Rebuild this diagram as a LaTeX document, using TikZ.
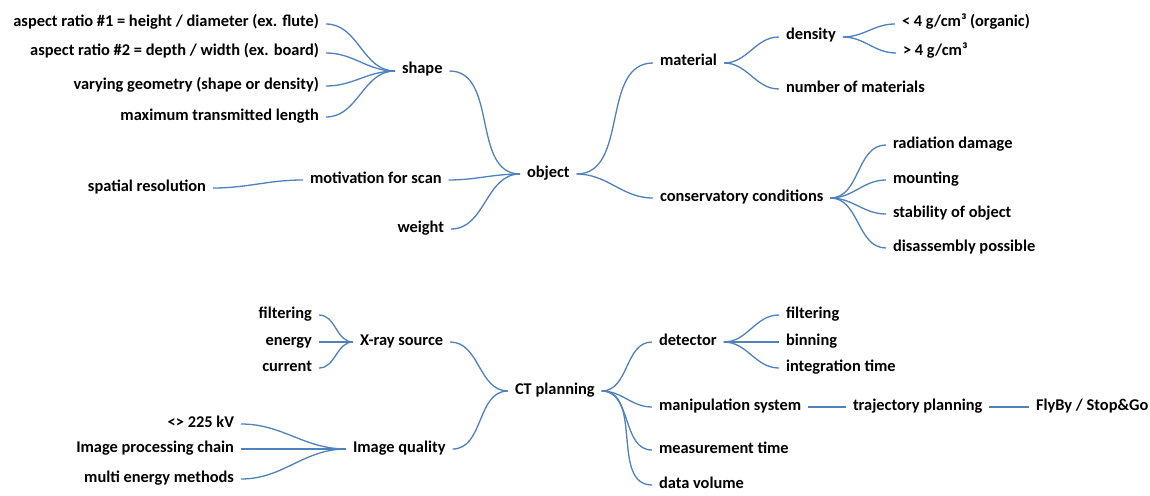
\documentclass[tikz,border=0pt]{standalone}
\usepackage{fontspec}
\setmainfont{Carlito}
\definecolor{linkblue}{RGB}{79,129,189}
\begin{document}
\begin{tikzpicture}[x=1pt,y=-1pt,
  lbl/.style={inner xsep=7pt, inner ysep=0pt, outer sep=0pt, text height=10.5pt, text depth=4.5pt,
    font=\fontsize{16.4}{18}\selectfont\bfseries, text=black},
  L/.style={lbl, anchor=east},
  R/.style={lbl, anchor=west},
  link/.style={draw=linkblue, line width=1.3pt, out=0, in=180},
]
\fill[white] (0,0) rectangle (1150,495);
\useasboundingbox (0,0) rectangle (1150,495);

% ---- object tree ----
\node[L] (asp1) at (326,24) {aspect ratio \#1 = height / diameter (ex. flute)};
\node[L] (asp2) at (326,53) {aspect ratio \#2 = depth / width (ex. board)};
\node[L] (vary) at (326,86) {varying geometry (shape or density)};
\node[L] (maxl) at (326,117) {maximum transmitted length};
\node[R] (shape) at (395,71) {shape};
\node[L] (spat) at (213,188) {spatial resolution};
\node[R] (motiv) at (303,180) {motivation for scan};
\node[L] (weight) at (451,229) {weight};
\node[R] (object) at (520,174) {object};
\node[R] (material) at (653,63) {material};
\node[R] (density) at (779,37) {density};
\node[R] (lt4) at (895,24) {< 4 g/cm³ (organic)};
\node[R] (gt4) at (896,53) {> 4 g/cm³};
\node[R] (number) at (779,89) {number of materials};
\node[R] (cons) at (653,198) {conservatory conditions};
\node[R] (rad) at (886,145) {radiation damage};
\node[R] (mount) at (886,180) {mounting};
\node[R] (stab) at (886,214) {stability of object};
\node[R] (disas) at (886,248) {disassembly possible};

\draw[link] (asp1.east) to (shape.west);
\draw[link] (asp2.east) to (shape.west);
\draw[link] (vary.east) to (shape.west);
\draw[link] (maxl.east) to (shape.west);
\draw[link] (spat.east) to (motiv.west);
\draw[link] (shape.east) to (object.west);
\draw[link] (motiv.east) to (object.west);
\draw[link] (weight.east) to (object.west);
\draw[link] (object.east) to (material.west);
\draw[link] (object.east) to (cons.west);
\draw[link] (material.east) to (density.west);
\draw[link] (material.east) to (number.west);
\draw[link] (density.east) to (lt4.west);
\draw[link] (density.east) to (gt4.west);
\draw[link] (cons.east) to (rad.west);
\draw[link] (cons.east) to (mount.west);
\draw[link] (cons.east) to (stab.west);
\draw[link] (cons.east) to (disas.west);

% ---- CT planning tree ----
\node[L] (filt1) at (319,315) {filtering};
\node[L] (energy) at (319,342) {energy};
\node[L] (current) at (319,368) {current};
\node[R] (xray) at (353,342) {X-ray source};
\node[L] (kv) at (241,424) {<> 225 kV};
\node[L] (chain) at (241,449) {Image processing chain};
\node[L] (multi) at (241,479) {multi energy methods};
\node[R] (imgq) at (346,449) {Image quality};
\node[R] (ct) at (508,391) {CT planning};
\node[R] (detector) at (652,342) {detector};
\node[R] (filt2) at (779,315) {filtering};
\node[R] (binning) at (779,342) {binning};
\node[R] (integ) at (779,368) {integration time};
\node[R] (manip) at (652,407) {manipulation system};
\node[R] (traj) at (846,407) {trajectory planning};
\node[R] (flyby) at (1029,407) {FlyBy / Stop\&Go};
\node[R] (meas) at (652,450) {measurement time};
\node[R] (data) at (652,485) {data volume};

\draw[link] (filt1.east) to (xray.west);
\draw[link] (energy.east) to (xray.west);
\draw[link] (current.east) to (xray.west);
\draw[link] (kv.east) to (imgq.west);
\draw[link] (chain.east) to (imgq.west);
\draw[link] (multi.east) to (imgq.west);
\draw[link] (xray.east) to (ct.west);
\draw[link] (imgq.east) to (ct.west);
\draw[link] (ct.east) to (detector.west);
\draw[link] (ct.east) to (manip.west);
\draw[link] (ct.east) to (meas.west);
\draw[link] (ct.east) to (data.west);
\draw[link] (detector.east) to (filt2.west);
\draw[link] (detector.east) to (binning.west);
\draw[link] (detector.east) to (integ.west);
\draw[link] (manip.east) to (traj.west);
\draw[link] (traj.east) to (flyby.west);
\end{tikzpicture}
\end{document}
